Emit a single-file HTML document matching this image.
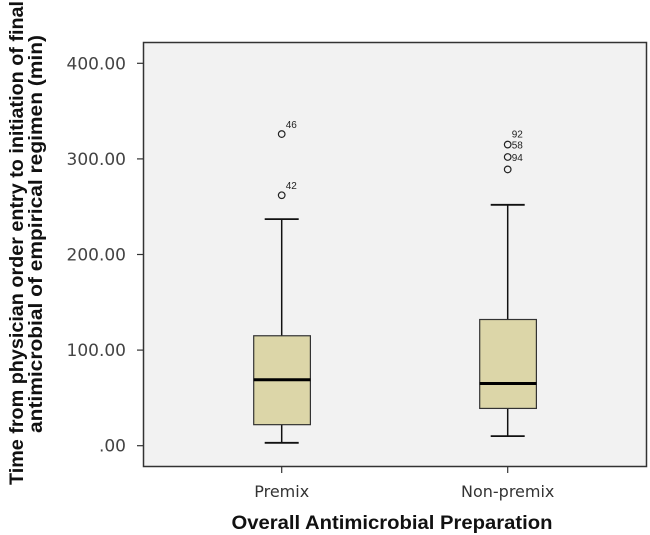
<!DOCTYPE html>
<html><head><meta charset="utf-8"><style>
body{margin:0;background:#fff;}
svg{display:block;font-family:"Liberation Sans",sans-serif;}
</style></head><body>
<svg id="chart" width="650" height="535">
<rect x="143.5" y="42.5" width="503" height="424" fill="#f2f2f2" stroke="#333" stroke-width="1.5"/>
<g id="yaxis"></g>
<g id="xaxis"></g>
<g id="boxes"></g>
<text x="0" y="0" transform="translate(23,243) rotate(-90)" text-anchor="middle" font-weight="bold" font-size="19" textLength="484" lengthAdjust="spacingAndGlyphs" fill="#111">Time from physician order entry to initiation of final</text>
<text x="0" y="0" transform="translate(42,234) rotate(-90)" text-anchor="middle" font-weight="bold" font-size="19" textLength="398" lengthAdjust="spacingAndGlyphs" fill="#111">antimicrobial of empirical regimen (min)</text>
<text x="392" y="529" text-anchor="middle" font-weight="bold" font-size="19" textLength="321" lengthAdjust="spacingAndGlyphs" fill="#111">Overall Antimicrobial Preparation</text>
</svg>
<script>
const categories=["Premix","Non-premix"];
const whiskerLow=[3,10];
const q1=[22,39];
const median=[69,65];
const q3=[115,132];
const whiskerHigh=[237,252];
const outlierValues=[[326,262],[315,302,289]];
const outlierLabels=[["46","42"],["92\u00a058","94",""]];
const yTicks=[0,100,200,300,400];
const yTickLabels=[".00","100.00","200.00","300.00","400.00"];

const NS="http://www.w3.org/2000/svg";
const y=v=>445.7-v*0.956;
const xPos=i=>281.7+i*226;
function el(tag,attrs,parent,txt){const e=document.createElementNS(NS,tag);for(const k in attrs)e.setAttribute(k,attrs[k]);if(txt!==undefined)e.textContent=txt;parent.appendChild(e);return e;}
const ya=document.getElementById('yaxis'),xa=document.getElementById('xaxis'),bx=document.getElementById('boxes');
yTicks.forEach((t,i)=>{
  const l=el('line',{x1:137,x2:143,y1:y(t),y2:y(t),stroke:'#333','stroke-width':1.2},ya);
  
  
  const tx=el('text',{x:126,y:y(t)+6,'text-anchor':'end','font-size':17,'font-family':'DejaVu Sans, sans-serif',fill:'#444'},ya,yTickLabels[i]);
  
  
});
categories.forEach((c,i)=>{
  const cx=xPos(i);
  const tk=el('line',{x1:cx,x2:cx,y1:467,y2:473,stroke:'#333','stroke-width':1.2},xa);
  
  
  const lb=el('text',{x:cx,y:497,'text-anchor':'middle','font-size':16,'font-family':'DejaVu Sans, sans-serif',fill:'#333'},xa,c);
  
  
  const g=el('g',{},bx);
  
  
  el('line',{x1:cx,x2:cx,y1:y(whiskerHigh[i]),y2:y(q3[i]),stroke:'#111','stroke-width':1.5},g);
  el('line',{x1:cx,x2:cx,y1:y(q1[i]),y2:y(whiskerLow[i]),stroke:'#111','stroke-width':1.5},g);
  el('line',{x1:cx-17,x2:cx+17,y1:y(whiskerHigh[i]),y2:y(whiskerHigh[i]),stroke:'#111','stroke-width':1.8},g);
  el('line',{x1:cx-17,x2:cx+17,y1:y(whiskerLow[i]),y2:y(whiskerLow[i]),stroke:'#111','stroke-width':1.8},g);
  el('rect',{x:cx-28,y:y(q3[i]),width:56.7,height:y(q1[i])-y(q3[i]),fill:'#dcd6a8',stroke:'#333','stroke-width':1.2},g);
  el('line',{x1:cx-28,x2:cx+28.7,y1:y(median[i]),y2:y(median[i]),stroke:'#000','stroke-width':3},g);
  outlierValues[i].forEach((v,j)=>{
    const o=el('circle',{cx:cx,cy:y(v),r:3.3,fill:'none',stroke:'#222','stroke-width':1.2},g);
    
    
    const lab=outlierLabels[i][j];
    if(lab){
      if(i===0){el('text',{x:cx+4,y:y(v)-6,'font-size':10,fill:'#222'},g,lab);}
      else if(j===0){el('text',{x:cx+4,y:y(v)-7,'font-size':10,fill:'#222'},g,'92');el('text',{x:cx+4,y:y(v)+4,'font-size':10,fill:'#222'},g,'58');}
      else{el('text',{x:cx+4,y:y(v)+4,'font-size':10,fill:'#222'},g,lab);}
    }
  });
});
</script>
</body></html>
